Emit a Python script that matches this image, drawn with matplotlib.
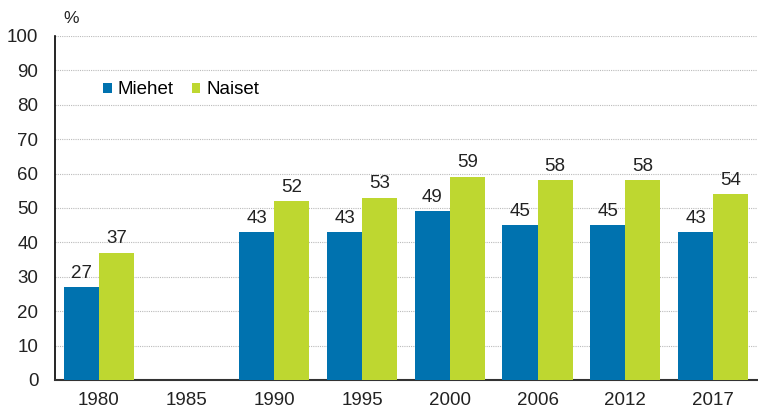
import numpy as np
import matplotlib.pyplot as plt

plt.rcParams['font.family'] = ['Liberation Sans', 'DejaVu Sans']

years = ['1980', '1985', '1990', '1995', '2000', '2006', '2012', '2017']
miehet = [27, np.nan, 43, 43, 49, 45, 45, 43]
naiset = [37, np.nan, 52, 53, 59, 58, 58, 54]

blue = '#0072AF'
green = '#BED730'
fs = 13.5

fig = plt.figure(figsize=(7.58, 4.12), dpi=100)
ax = fig.add_axes([0.0726, 0.0777, 0.926, 0.835])

x = np.arange(len(years))
w = 0.4
b1 = ax.bar(x - w / 2, miehet, w, color=blue, label='Miehet', zorder=3)
b2 = ax.bar(x + w / 2, naiset, w, color=green, label='Naiset', zorder=3)

for bars, vals in ((b1, miehet), (b2, naiset)):
    for rect, v in zip(bars, vals):
        if np.isnan(v):
            continue
        ax.annotate(f'{v:.0f}', (rect.get_x() + rect.get_width() / 2, v),
                    xytext=(0, 4), textcoords='offset points',
                    ha='center', va='bottom', fontsize=fs, color='#222222')

ax.set_xlim(-0.5, len(years) - 0.5)
ax.set_ylim(0, 100)
ax.set_yticks(range(0, 101, 10))
ax.set_xticks(x)
ax.set_xticklabels(years)
ax.tick_params(axis='both', length=0, labelsize=fs, colors='#222222')
ax.tick_params(axis='x', pad=9)
ax.tick_params(axis='y', pad=12)
ax.yaxis.grid(True, linestyle=(0, (1, 1)), color='#bbbbbb', linewidth=0.8, zorder=0)

for s in ('top', 'right'):
    ax.spines[s].set_visible(False)
ax.spines['left'].set_color('black')
ax.spines['left'].set_linewidth(1.2)
ax.spines['bottom'].set_color('#333333')
ax.spines['bottom'].set_linewidth(1.5)

fig.text(0.083, 0.955, '%', fontsize=fs - 1, ha='left', va='center', color='#222222')

ax.legend(loc='upper left', bbox_to_anchor=(0.058, 0.89), ncol=2, frameon=False,
          fontsize=fs, handlelength=0.45, handleheight=0.45, handletextpad=0.3,
          columnspacing=1.0, borderaxespad=0)

fig.savefig('out.png', dpi=100)
